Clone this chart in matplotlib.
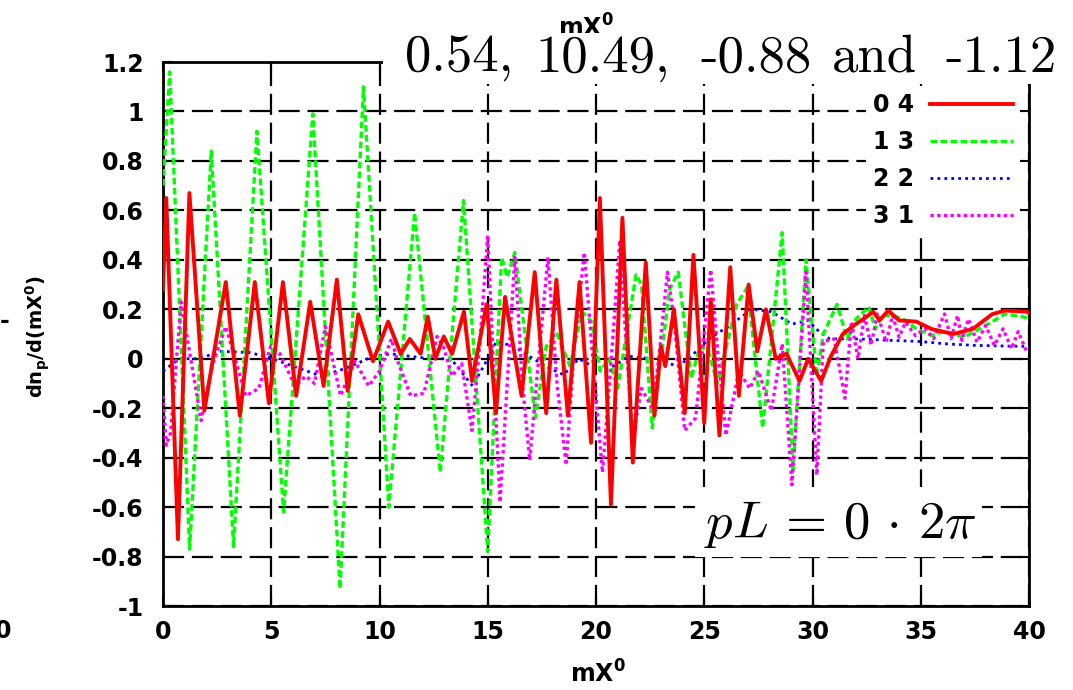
import matplotlib
matplotlib.use("Agg")
import matplotlib.pyplot as plt
from matplotlib.patches import Rectangle
from matplotlib.font_manager import FontProperties

# ---------------- data ----------------
red_x = [0.0, 0.15, 0.69, 1.22, 1.91, 2.9, 3.55, 4.24, 4.89, 5.54, 6.15, 6.8, 7.42, 8.03,
         8.53, 9.02, 9.7, 10.4, 10.98, 11.4, 11.9, 12.23, 12.58, 12.97, 13.35, 13.9, 14.27,
         14.95, 15.38, 15.8, 16.56, 17.17, 17.7, 18.17, 18.7, 19.24, 19.77, 20.18, 20.69,
         21.22, 21.7, 22.3, 22.7, 23.0, 23.2, 23.6, 24.1, 24.5, 25.0, 25.3, 25.7, 26.2, 26.6,
         27.05, 27.45, 27.85, 28.3, 28.8, 29.4, 29.8, 30.4, 30.85, 31.4, 32.0, 32.5, 32.8,
         33.1, 33.5, 34.0, 34.8, 35.5, 36.5, 37.4, 38.3, 38.9, 39.9, 40.0]
red_y = [0.28, 0.65, -0.73, 0.67, -0.21, 0.31, -0.23, 0.31, -0.18, 0.31, -0.15, 0.23, -0.11, 0.32,
         -0.13, 0.18, -0.01, 0.15, 0.02, 0.08, 0.02, 0.17, 0.0, 0.09, 0.02, 0.19, -0.09,
         0.22, -0.22, 0.25, -0.15, 0.35, -0.22, 0.32, -0.23, 0.31, -0.34, 0.65, -0.59,
         0.57, -0.42, 0.39, -0.23, 0.05, -0.03, 0.2, -0.22, 0.42, -0.26, 0.24, -0.31, 0.37, -0.15,
         0.3, 0.03, 0.2, 0.0, 0.02, -0.09, 0.0, -0.09, 0.01, 0.1, 0.14, 0.17, 0.19,
         0.155, 0.195, 0.155, 0.15, 0.12, 0.10, 0.12, 0.18, 0.195, 0.19, 0.185]

green_x = [0.0, 0.31, 1.23, 2.23, 3.26, 4.34, 5.57, 6.92, 8.18, 9.26, 10.43, 11.62, 12.81, 13.88,
           15.0, 15.64, 15.9, 16.25, 17.2, 17.7, 18.2, 18.8, 19.35, 19.8, 20.2, 20.6, 21.0,
           21.85, 22.1, 22.6, 23.4, 23.8, 24.4, 24.8, 25.2, 25.6, 26.5, 27.0, 27.7, 28.6, 29.1,
           29.7, 30.2, 30.5, 31.14, 31.6, 32.0, 32.6, 32.9, 33.2, 33.7, 34.3, 34.8, 35.1, 35.5,
           36.1, 37.0, 38.0, 38.9, 39.8, 40.0]
green_y = [0.70, 1.16, -0.77, 0.84, -0.76, 0.92, -0.62, 0.99, -0.93, 1.10, -0.60, 0.59, -0.46, 0.64,
           -0.78, 0.41, 0.33, 0.43, -0.24, 0.05, 0.10, -0.03, 0.19, 0.15, -0.05, 0.0, -0.12,
           0.34, 0.30, -0.28, 0.28, 0.35, -0.08, 0.05, 0.03, -0.1, 0.22, 0.29, -0.28, 0.51, -0.45,
           0.40, -0.07, 0.1, 0.22, 0.08, 0.16, 0.21, 0.12, 0.175, 0.175, 0.155, 0.12, 0.11, 0.094,
           0.11, 0.087, 0.134, 0.181, 0.168, 0.16]

blue_x = [0.0, 0.76, 1.7, 2.6, 4.0, 4.9, 6.0, 7.3, 8.4, 9.6, 10.5, 11.4, 12.35, 13.3, 14.3, 15.0,
          15.4, 16.2, 17.1, 17.9, 18.5, 19.2, 20.15, 20.8, 21.5, 22.6, 23.8, 24.4, 25.2, 26.1,
          27.2, 28.1, 29.05, 29.8, 30.3, 30.8, 32.1, 33.7, 34.9, 36.2, 37.5, 39.1, 40.0]
blue_y = [-0.05, 0.0, 0.0, 0.03, 0.025, 0.005, -0.03, -0.07, -0.04, 0.005, 0.02, 0.01, 0.0, 0.0,
          -0.11, 0.0, 0.07, 0.05, 0.0, -0.04, -0.065, 0.0, -0.045, -0.03, 0.01, 0.0, -0.03, 0.01,
          0.08, 0.13, 0.2, 0.19, 0.14, 0.155, 0.11, 0.08, 0.08, 0.074, 0.07, 0.06, 0.054, 0.051, 0.05]

mag_x = [0.0, 0.15, 0.35, 0.84, 1.3, 1.76, 2.3, 2.9, 3.4, 3.82, 4.43, 4.97, 5.4, 6.1, 6.6, 7.0,
         7.5, 8.2, 8.87, 9.5, 10.0, 10.55, 10.8, 11.44, 12.05, 12.66, 12.95, 13.35, 13.8, 14.27,
         14.65, 15.0, 15.3, 15.57, 15.9, 16.25, 16.6, 16.94, 17.3, 17.78, 18.2, 18.62, 19.0,
         19.46, 19.85, 20.3, 20.75, 21.1, 21.4, 21.7, 22.1, 22.6, 22.9, 23.3, 23.6, 24.1, 24.6,
         25.3, 25.6, 26.0, 26.6, 27.1, 27.5, 28.1, 28.6, 29.05, 29.7, 30.2, 30.5, 31.0, 31.5,
         31.8, 32.1, 32.4, 32.7, 33.0, 33.4, 33.7, 34.0, 34.3, 34.75, 35.2, 35.6, 36.1, 36.4,
         36.7, 36.9, 37.2, 37.6, 38.0, 38.4, 38.8, 39.2, 39.5, 39.9]
mag_y = [-0.15, -0.35, -0.30, 0.23, -0.01, -0.25, -0.02, 0.13, -0.02, -0.15, -0.12, 0.05, 0.02,
         -0.11, -0.07, -0.1, 0.13, -0.15, -0.01, -0.11, -0.05, 0.08, 0.0, -0.15, -0.14, 0.09,
         0.05, -0.07, -0.02, -0.29, 0.08, 0.50, -0.1, -0.58, -0.1, 0.41, -0.1, -0.41, -0.05,
         0.41, -0.1, -0.43, 0.05, 0.43, 0.0, -0.46, 0.05, 0.48, 0.05, -0.32, -0.12, -0.2, 0.0,
         0.35, 0.16, -0.29, -0.24, 0.36, 0.05, -0.31, -0.05, -0.12, -0.05, -0.21, 0.06, -0.51,
         0.35, -0.47, 0.07, 0.08, -0.16, 0.15, 0.0, 0.175, 0.054, 0.181, 0.067, 0.175, 0.087,
         0.148, 0.094, 0.121, 0.081, 0.181, 0.081, 0.175, 0.074, 0.161, 0.067, 0.134, 0.054,
         0.121, 0.04, 0.11, 0.027]

series_labels = ["0 4", "1 3", "2 2", "3 1"]
x_ticks = [0, 5, 10, 15, 20, 25, 30, 35, 40]
x_tick_labels = ["0", "5", "10", "15", "20", "25", "30", "35", "40"]
y_ticks = [-1.0, -0.8, -0.6, -0.4, -0.2, 0.0, 0.2, 0.4, 0.6, 0.8, 1.0, 1.2]
y_tick_labels = ["-1", "-0.8", "-0.6", "-0.4", "-0.2", "0", "0.2", "0.4", "0.6", "0.8", "1", "1.2"]
title_words = ["0.54,", "10.49,", "-0.88", "and", "-1.12"]
annot_text = r"$pL\,=\,0\,\cdot\,2\pi$"

# ---------------- figure ----------------
W, H = 1073, 690
fig = plt.figure(figsize=(W / 100, H / 100), dpi=100)
L, R, T, B = 163, 1029, 62, 606
ax = fig.add_axes([L / W, 1 - B / H, (R - L) / W, (B - T) / H])

ax.plot(red_x, red_y, color="#ff0000", lw=2.8, solid_joinstyle="round", zorder=5)
ax.plot(green_x, green_y, color="#00ff00", lw=2.4, linestyle=(0, (2, 1)), zorder=4)
ax.plot(blue_x, blue_y, color="#0000ff", lw=2.0, linestyle=(0, (1, 1.5)), zorder=3)
ax.plot(mag_x, mag_y, color="#ff00ff", lw=2.4, linestyle=(0, (1, 1)), zorder=4)
lines = ax.get_lines()

ax.set_xlim(0, 40)
ax.set_ylim(-1, 1.2)
ax.set_xticks(x_ticks, x_tick_labels)
ax.set_yticks(y_ticks, y_tick_labels)
tickfont = FontProperties(family="DejaVu Sans", weight="bold", size=17)
for lab in ax.get_xticklabels() + ax.get_yticklabels():
    lab.set_fontproperties(tickfont)
ax.tick_params(axis="both", direction="in", length=7, width=1.5, top=True, right=True,
               colors="black")
ax.tick_params(axis="x", pad=10)
ax.tick_params(axis="y", pad=14)
ax.grid(True, color="black", lw=1.6, linestyle=(0, (9.5, 3.5)))
ax.set_axisbelow(True)
for s in ax.spines.values():
    s.set_linewidth(2.0)
    s.set_color("black")

leg = ax.legend(lines, series_labels, loc="upper right",
                bbox_to_anchor=(1020 / W, 1 - 86 / H), bbox_transform=fig.transFigure,
                markerfirst=False, frameon=True, fancybox=False, framealpha=1,
                edgecolor="none", facecolor="white", borderpad=0.3, borderaxespad=0,
                labelspacing=0.55, handlelength=3.5, handletextpad=0.7,
                prop=dict(family="DejaVu Sans", weight="bold", size=17))
leg.set_zorder(10)

# white boxes (title strip and annotation)
fig.add_artist(Rectangle((383 / W, 1 - 84 / H), (W - 383) / W, 51 / H,
                         transform=fig.transFigure, facecolor="white", edgecolor="none",
                         zorder=4))
fig.add_artist(Rectangle((695 / W, 1 - 557 / H), 287 / W, 70 / H,
                         transform=fig.transFigure, facecolor="white", edgecolor="none",
                         zorder=4))

# texts
fig.text(586 / W, 1 - 37 / H, r"mX$^\mathbf{0}$", ha="center", va="baseline",
         fontsize=17, fontweight="bold", family="DejaVu Sans", math_fontfamily="dejavusans",
         zorder=3)
title_x = [405, 535, 700, 832, 945]
for word, px in zip(title_words, title_x):
    fig.text(px / W, 1 - 72 / H, word, ha="left", va="baseline", fontsize=38,
             family="cmr10", zorder=6)
fig.text(840 / W, 1 - 538 / H, annot_text, ha="center", va="baseline", fontsize=38,
         math_fontfamily="cm", zorder=6)
fig.text(598 / W, 1 - 683 / H, r"mX$^\mathbf{0}$", ha="center", va="baseline",
         fontsize=17, fontweight="bold", family="DejaVu Sans", math_fontfamily="dejavusans")
fig.text(38 / W, 1 - 336 / H, r"dn$_\mathbf{p}$/d(mX$^\mathbf{0}$)", ha="center", va="center",
         rotation=90, fontsize=14, fontweight="bold", family="DejaVu Sans",
         math_fontfamily="dejavusans")
fig.text(3 / W, 1 - 631 / H, "0", ha="center", va="center", fontsize=17, fontweight="bold",
         family="DejaVu Sans")
fig.text(0 / W, 1 - 321 / H, "-", ha="left", va="center", fontsize=17, fontweight="bold",
         family="DejaVu Sans")

fig.savefig("out.png", dpi=100, facecolor="white")
